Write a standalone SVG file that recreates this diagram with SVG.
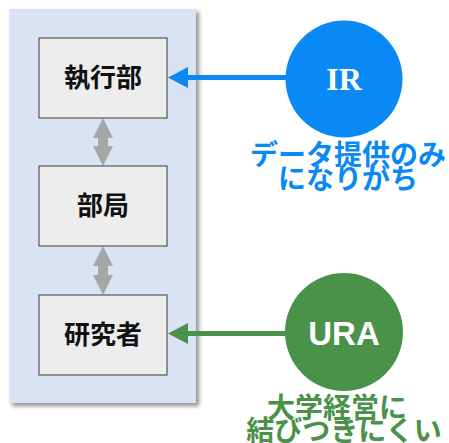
<svg xmlns="http://www.w3.org/2000/svg" width="449" height="443" viewBox="0 0 449 443">
<defs>
<style>
.box{fill:#EDEDED;stroke:#555;stroke-width:1.2}
.bt{font-family:"Noto Sans CJK JP","Noto Sans",sans-serif;font-weight:bold;font-size:26px;fill:#111;text-anchor:middle}
.cap{font-family:"Noto Sans CJK JP",sans-serif;font-weight:bold;font-size:28px;text-anchor:middle}
.dbl{fill:#A6A6A6}
</style>
<filter id="sh" x="-10%" y="-10%" width="130%" height="130%">
<feGaussianBlur in="SourceAlpha" stdDeviation="2"/>
<feOffset dx="3" dy="3"/>
<feComponentTransfer><feFuncA type="linear" slope="0.45"/></feComponentTransfer>
<feMerge><feMergeNode/><feMergeNode in="SourceGraphic"/></feMerge>
</filter>
</defs>
<rect x="9" y="9" width="187" height="394" fill="#DAE3F3" filter="url(#sh)"/>
<g id="connectors">
<path class="dbl" d="M103 118 L113 138 L108 138 L108 146 L113 146 L103 166 L93 146 L98 146 L98 138 L93 138 Z"/>
<path class="dbl" d="M103 246 L113 266 L108 266 L108 275 L113 275 L103 295 L93 275 L98 275 L98 266 L93 266 Z"/>
<line x1="188" y1="77.5" x2="288" y2="77.5" stroke="#0A88F5" stroke-width="5"/>
<path d="M168 77.5 L188 67 L188 88 Z" fill="#0A88F5"/>
<line x1="188" y1="333.5" x2="288" y2="333.5" stroke="#4A9249" stroke-width="5"/>
<path d="M168 333.5 L188 323 L188 344 Z" fill="#4A9249"/>
</g>
<g id="n1"><rect class="box" x="39" y="38" width="128" height="80"/><text class="bt" x="103" y="87">執行部</text></g>
<g id="n2"><rect class="box" x="39" y="166" width="128" height="80"/><text class="bt" x="103" y="215">部局</text></g>
<g id="n3"><rect class="box" x="39" y="295" width="128" height="80"/><text class="bt" x="103" y="344">研究者</text></g>
<g id="ir">
<circle cx="344" cy="79" r="58.5" fill="#0A88F5"/>
<text x="344" y="90" font-family="Liberation Serif,serif" font-weight="bold" font-size="32" fill="#fff" text-anchor="middle">IR</text>
<text class="cap" x="348" y="165" fill="#0A88F5">データ提供のみ</text>
<text class="cap" x="348" y="189" fill="#0A88F5">になりがち</text>
</g>
<g id="ura">
<circle cx="344" cy="332" r="59" fill="#4A9249"/>
<text x="344" y="345" font-family="Liberation Sans,sans-serif" font-weight="bold" font-size="33" fill="#fff" text-anchor="middle">URA</text>
<text class="cap" x="337" y="418" fill="#4A9249">大学経営に</text>
<text class="cap" x="344" y="441" fill="#4A9249">結びつきにくい</text>
</g>
</svg>
